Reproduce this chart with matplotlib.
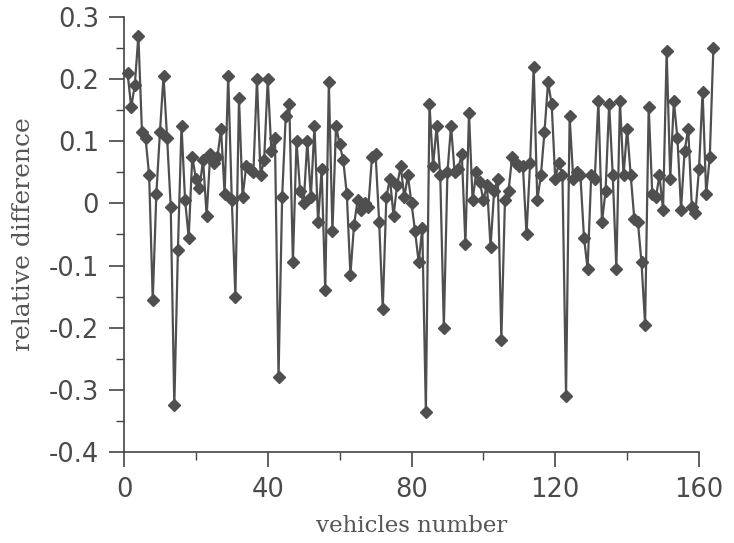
import matplotlib
matplotlib.use("Agg")
import matplotlib.pyplot as plt
from matplotlib.ticker import MultipleLocator

values = [
    0.21, 0.155, 0.19, 0.27, 0.115, 0.105, 0.045, -0.155, 0.015, 0.115,
    0.205, 0.105, -0.005, -0.325, -0.075, 0.125, 0.005, -0.055, 0.075, 0.04,
    0.025, 0.07, -0.02, 0.08, 0.065, 0.075, 0.12, 0.015, 0.205, 0.005,
    -0.15, 0.17, 0.01, 0.06, 0.055, 0.05, 0.2, 0.045, 0.07, 0.2,
    0.085, 0.105, -0.28, 0.01, 0.14, 0.16, -0.095, 0.1, 0.02, 0.0,
    0.1, 0.01, 0.125, -0.03, 0.055, -0.14, 0.195, -0.045, 0.125, 0.095,
    0.07, 0.015, -0.115, -0.035, 0.005, -0.01, 0.0, -0.005, 0.075, 0.08,
    -0.03, -0.17, 0.01, 0.04, -0.02, 0.03, 0.06, 0.01, 0.045, 0.0,
    -0.045, -0.095, -0.04, -0.335, 0.16, 0.06, 0.125, 0.045, -0.2, 0.05,
    0.125, 0.05, 0.055, 0.08, -0.065, 0.145, 0.005, 0.05, 0.035, 0.005,
    0.03, -0.07, 0.02, 0.04, -0.22, 0.005, 0.02, 0.075, 0.065, 0.06,
    0.06, -0.05, 0.065, 0.22, 0.005, 0.045, 0.115, 0.195, 0.16, 0.04,
    0.065, 0.045, -0.31, 0.14, 0.04, 0.05, 0.045, -0.055, -0.105, 0.045,
    0.04, 0.165, -0.03, 0.02, 0.16, 0.045, -0.105, 0.165, 0.045, 0.12,
    0.045, -0.025, -0.03, -0.095, -0.195, 0.155, 0.015, 0.01, 0.045, -0.01,
    0.245, 0.04, 0.165, 0.105, -0.01, 0.085, 0.12, -0.005, -0.015, 0.055,
    0.18, 0.015, 0.075, 0.25,
]
vehicles = list(range(1, len(values) + 1))

x_ticks = [0, 40, 80, 120, 160]
y_ticks = [-0.4, -0.3, -0.2, -0.1, 0, 0.1, 0.2, 0.3]
y_tick_labels = ["-0.4", "-0.3", "-0.2", "-0.1", "0", "0.1", "0.2", "0.3"]

fig = plt.figure(figsize=(7.34, 5.43), dpi=100)
ax = fig.add_axes([124/734, 91/543, (699-124)/734, (452-17)/543])

col = "#4f4f4f"
ax.plot(vehicles, values, color=col, lw=1.6, marker="D", ms=5.8,
        mfc=col, mec=col, clip_on=False, zorder=3)

ax.set_xlim(0, 160)
ax.set_ylim(-0.4, 0.3)
ax.set_xticks(x_ticks)
ax.set_xticklabels([str(t) for t in x_ticks])
ax.set_yticks(y_ticks)
ax.set_yticklabels(y_tick_labels)
ax.xaxis.set_minor_locator(MultipleLocator(20))
ax.yaxis.set_minor_locator(MultipleLocator(0.05))

for s in ["top", "right"]:
    ax.spines[s].set_visible(False)
for s in ["left", "bottom"]:
    ax.spines[s].set_color("#444444")
    ax.spines[s].set_linewidth(1.2)

ax.tick_params(axis="both", which="major", direction="out", length=11, width=1.2,
               color="#444444", labelsize=18.5, labelcolor="#4a4a4a", pad=7)
ax.tick_params(axis="both", which="minor", direction="out", length=6, width=1.0,
               color="#444444")
for lab in ax.get_xticklabels() + ax.get_yticklabels():
    lab.set_fontfamily("DejaVu Sans")

ax.set_xlabel("vehicles number", fontfamily="DejaVu Serif", fontsize=16.5,
              color="#555555", labelpad=9)
ax.set_ylabel("relative difference", fontfamily="DejaVu Serif", fontsize=18,
              color="#555555", labelpad=10)

fig.savefig("out.png", dpi=100)
